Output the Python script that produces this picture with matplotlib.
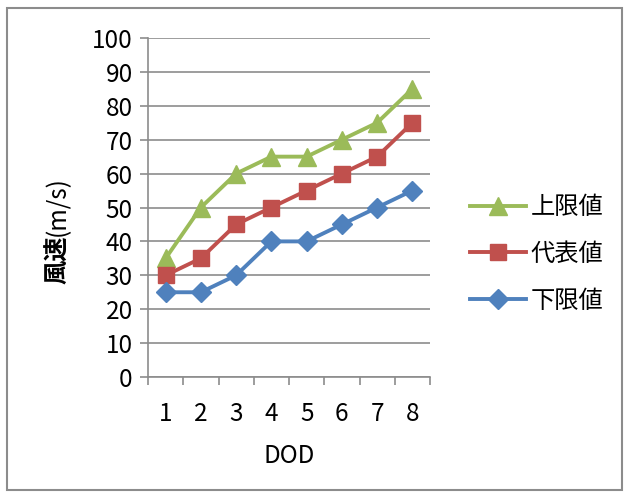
import matplotlib
matplotlib.use("Agg")
import matplotlib.pyplot as plt
from matplotlib.patches import Rectangle
from matplotlib.ticker import FixedLocator

plt.rcParams['font.family'] = ['Noto Sans CJK JP', 'DejaVu Sans']

# data
dod = [1, 2, 3, 4, 5, 6, 7, 8]
upper = [35, 50, 60, 65, 65, 70, 75, 85]
typical = [30, 35, 45, 50, 55, 60, 65, 75]
lower = [25, 25, 30, 40, 40, 45, 50, 55]
names = ['上限値', '代表値', '下限値']

fig = plt.figure(figsize=(6.28, 4.96), dpi=100)
ax = fig.add_axes([148/628, 1-377/496, (430-148)/628, (377-38)/496])

green = '#9BBB59'
red = '#C0504D'
blue = '#4F81BD'
grid = '#8C8C8C'
fs = 17.5

ax.plot(dod, upper, color=green, lw=2.8, marker='^', ms=13, label=names[0], zorder=3)
ax.plot(dod, typical, color=red, lw=2.8, marker='s', ms=12, label=names[1], zorder=3)
ax.plot(dod, lower, color=blue, lw=2.8, marker='D', ms=10, label=names[2], zorder=3)

ax.set_xlim(0.5, 8.5)
ax.set_ylim(0, 100)
ax.set_yticks(range(0, 101, 10))
ax.set_xticks(dod)
ax.xaxis.set_minor_locator(FixedLocator([x + 0.5 for x in range(0, 9)]))
ax.tick_params(axis='x', which='major', length=0, labelsize=fs, pad=17)
ax.tick_params(axis='x', which='minor', length=6, width=1.2, color=grid, direction='out')
ax.tick_params(axis='y', length=6, width=1.2, color=grid, labelsize=fs, pad=5)
ax.yaxis.grid(True, color=grid, lw=1.2)
ax.set_axisbelow(True)
for s in ['top', 'right']:
    ax.spines[s].set_visible(False)
for s in ['left', 'bottom']:
    ax.spines[s].set_color(grid)
    ax.spines[s].set_linewidth(1.2)

ax.set_xlabel('DOD', fontsize=fs, labelpad=12)

# y label with bold first part
fig.text(58/628, 1-236/496, '風速', rotation=90, fontsize=fs, fontweight='bold',
         ha='center', va='top')
fig.text(58/628, 1-236/496, '(m/s)', rotation=90, fontsize=fs,
         ha='center', va='bottom')

leg = fig.legend(loc='center left', bbox_to_anchor=(470/628, 1-254/496), frameon=False,
                 fontsize=fs, handlelength=2.3, labelspacing=0.85, handletextpad=0.2,
                 borderpad=0, borderaxespad=0)

fig.patches.append(Rectangle((7/628, 1-490/496), 615/628, 482/496, transform=fig.transFigure,
                             fill=False, edgecolor='#8C8C8C', lw=1.5))

fig.savefig('out.png', dpi=100)
